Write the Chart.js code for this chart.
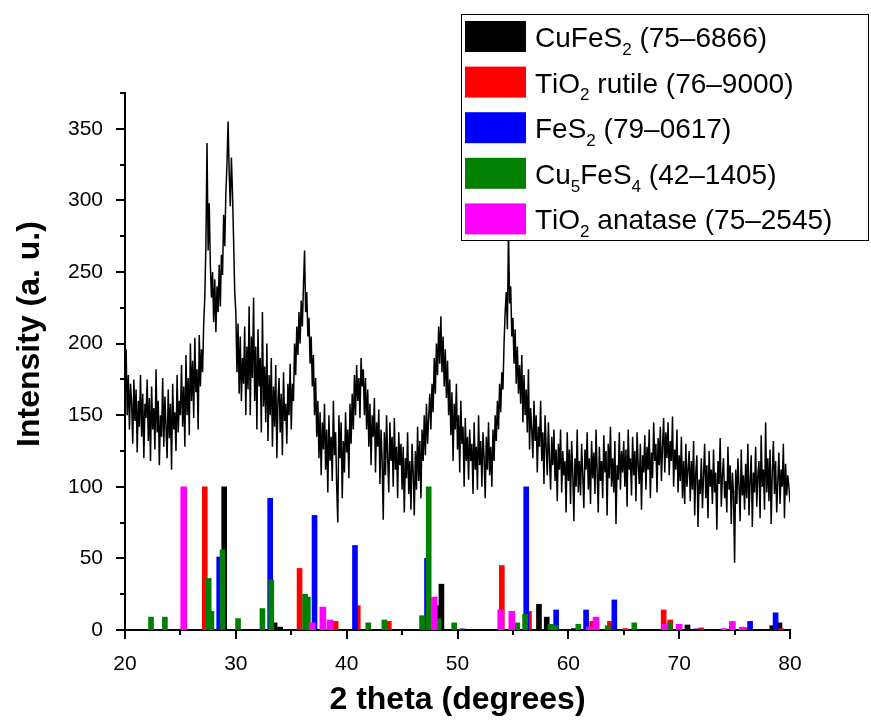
<!DOCTYPE html>
<html>
<head>
<meta charset="utf-8">
<script src="https://cdn.jsdelivr.net/npm/chart.js@4.4.1/dist/chart.umd.min.js"></script>
<style>
  html, body { margin: 0; padding: 0; background: #fff; }
  canvas { display: block; }
</style>
</head>
<body>
<canvas id="xrd" width="871" height="720"></canvas>
<script>
// measured pattern, one reading every 0.1 degree from 20 to 80
const scanStart = 20;
const scanStep = 0.1;
const intensity = [
  188, 196, 150, 178, 140, 172, 158, 130, 175, 146, // 20
  168, 124, 160, 142, 178, 135, 165, 120, 158, 148,
  175, 132, 162, 118, 170, 140, 155, 126, 182, 138,
  160, 115, 150, 135, 176, 128, 163, 142, 120, 168,
  134, 158, 112, 172, 140, 152, 125, 178, 138, 160,
  150, 185, 142, 170, 128, 192, 150, 176, 136, 200, // 25
  160, 188, 148, 204, 166, 182, 140, 206, 170, 196,
  180, 214, 232, 270, 340, 265, 298, 255, 232, 250,
  215, 245, 208, 240, 222, 255, 226, 262, 248, 290,
  268, 305, 325, 355, 320, 296, 330, 305, 272, 236,
  222, 180, 214, 165, 205, 160, 190, 172, 212, 150, // 30
  198, 168, 226, 150, 205, 176, 232, 160, 198, 140,
  210, 170, 190, 138, 222, 156, 184, 145, 200, 132,
  178, 150, 190, 128, 170, 142, 185, 120, 160, 176,
  138, 165, 122, 180, 146, 158, 130, 172, 150, 186,
  140, 172, 160, 200, 178, 212, 192, 222, 200, 230, // 35
  212, 240, 265, 222, 236, 205, 218, 186, 205, 170,
  192, 150, 176, 135, 160, 120, 152, 108, 145, 126,
  158, 112, 140, 96, 150, 118, 135, 104, 160, 122,
  138, 100, 75, 150, 120, 145, 92, 132, 110, 152,
  124, 140, 106, 158, 130, 165, 140, 178, 150, 185, // 40
  160, 176, 148, 190, 170, 182, 150, 176, 140, 168,
  128, 158, 115, 150, 135, 162, 110, 145, 128, 154,
  102, 140, 118, 77, 138, 108, 150, 120, 96, 145,
  118, 135, 100, 148, 112, 128, 92, 138, 115, 130,
  98, 128, 82, 120, 106, 138, 95, 118, 84, 130, // 45
  110, 80, 125, 98, 142, 104, 132, 92, 140, 118,
  150, 122, 158, 130, 148, 165, 140, 172, 152, 190,
  165, 200, 178, 212, 186, 219, 180, 205, 170, 196,
  162, 188, 150, 175, 136, 166, 118, 158, 140, 172,
  126, 150, 110, 160, 130, 142, 100, 148, 118, 135, // 50
  105, 140, 118, 130, 95, 145, 112, 128, 98, 150,
  115, 132, 100, 138, 120, 92, 135, 112, 145, 108,
  128, 100, 140, 118, 150, 132, 160, 140, 172, 152,
  180, 168, 200, 222, 236, 210, 280, 228, 240, 205,
  218, 186, 210, 172, 198, 165, 185, 158, 192, 145, // 55
  178, 150, 168, 138, 182, 126, 155, 140, 120, 160,
  132, 150, 110, 142, 128, 160, 118, 138, 102, 150,
  128, 108, 145, 120, 98, 135, 115, 140, 104, 126,
  90, 130, 112, 140, 96, 125, 108, 118, 82, 138,
  104, 126, 88, 132, 110, 76, 120, 100, 140, 96, // 60
  118, 94, 130, 108, 85, 126, 112, 138, 98, 120,
  88, 132, 106, 124, 95, 140, 110, 82, 128, 104,
  118, 92, 136, 110, 125, 80, 130, 106, 142, 100,
  120, 96, 132, 74, 115, 105, 138, 98, 125, 110,
  132, 100, 126, 86, 140, 112, 120, 94, 135, 108, // 65
  125, 90, 138, 115, 102, 130, 84, 122, 110, 136,
  98, 128, 112, 140, 92, 124, 106, 145, 118, 130,
  96, 134, 115, 142, 104, 128, 148, 110, 138, 120,
  145, 108, 132, 118, 149, 100, 126, 112, 140, 96,
  122, 104, 135, 92, 118, 88, 130, 100, 112, 125, // 70
  90, 118, 98, 132, 80, 110, 122, 72, 105, 95,
  120, 85, 108, 130, 92, 115, 78, 125, 100, 112,
  88, 126, 96, 110, 70, 118, 102, 134, 86, 108,
  120, 92, 104, 82, 128, 98, 115, 74, 110, 96,
  47, 112, 88, 120, 100, 76, 126, 94, 108, 84, // 75
  116, 92, 130, 80, 104, 122, 72, 110, 96, 128,
  86, 108, 118, 78, 136, 100, 112, 84, 145, 96,
  120, 90, 126, 74, 110, 132, 95, 118, 82, 104,
  124, 88, 112, 100, 130, 78, 116, 94, 108, 100,
  89 // 80
];

// reference cards: peak position (2 theta) and relative intensity
const cufes2Pos = [28.95, 33.5, 34.0, 48.25, 48.55, 57.35, 58.05, 60.5, 70.75, 78.4, 79.05];
const cufes2Int = [100, 5, 2, 17, 32, 18, 9, 1, 3.5, 3, 5];

const rutilePos = [27.2, 35.75, 39.0, 41.0, 43.8, 54.0, 56.45, 62.15, 63.75, 65.15, 68.6, 69.2, 72.0, 75.95, 79.2];
const rutileInt = [100, 43, 6, 17, 6, 45, 13, 6, 6, 1, 14, 7, 1.5, 1.5, 1];

const fes2Pos = [28.5, 33.1, 37.1, 40.75, 47.25, 50.45, 56.2, 58.9, 61.6, 64.15, 71.55, 76.4, 78.7];
const fes2Int = [51, 92, 80, 59, 50, 0.8, 100, 14, 14, 21, 0.8, 6, 12];

const bornitePos = [22.35, 23.6, 27.55, 27.8, 28.8, 30.2, 32.4, 33.2, 36.25, 36.5, 41.95, 43.4, 46.8, 47.4,
  48.3, 49.7, 55.4, 56.1, 58.4, 58.85, 60.9, 63.55, 65.95, 69.15];
const borniteInt = [9, 9, 36, 13, 56, 8, 15, 35, 25, 23, 5, 7, 10, 100, 8, 5, 5, 11, 4, 3, 4, 3, 5, 5];

const anatasePos = [25.3, 36.9, 37.85, 38.5, 47.9, 53.9, 54.9, 61.9, 62.5, 68.7, 70.0, 74.05, 74.8, 75.7];
const anataseInt = [100, 5, 16, 7, 23, 14, 13, 2, 9, 4, 4, 1, 6, 2];

const phaseLabels = [
  "CuFeS₂ (75–6866)",
  "TiO₂ rutile (76–9000)",
  "FeS₂ (79–0617)",
  "Cu₅FeS₄ (42–1405)",
  "TiO₂ anatase (75–2545)"
];
const phaseColors = ["#000000", "#ff0000", "#0000ff", "#008000", "#ff00ff"];

const xTicks = [20, 30, 40, 50, 60, 70, 80];
const yTicks = [0, 50, 100, 150, 200, 250, 300, 350];

const FONT = "'Liberation Sans', Arial, sans-serif";

function sticks(pos, val) {
  return pos.map((p, i) => ({ x: p, y: val[i] }));
}

// draw a label, turning unicode subscript digits into real lowered digits
function drawRich(ctx, text, x, y, size) {
  let cx = x;
  for (const ch of text) {
    const code = ch.charCodeAt(0);
    if (code >= 0x2080 && code <= 0x2089) {
      const d = String(code - 0x2080);
      ctx.font = Math.round(size * 0.62) + "px " + FONT;
      ctx.fillText(d, cx, y + size * 0.28);
      cx += ctx.measureText(d).width;
    } else {
      ctx.font = size + "px " + FONT;
      ctx.fillText(ch, cx, y);
      cx += ctx.measureText(ch).width;
    }
  }
}

const tickMarks = {
  id: "tickMarks",
  afterDraw(chart) {
    const { ctx, chartArea: a } = chart;
    const x = chart.scales.x, y = chart.scales.y;
    ctx.save();
    ctx.strokeStyle = "#000";
    ctx.lineWidth = 2;
    ctx.beginPath();
    for (let v = 0; v <= 375; v += 25) {
      const py = Math.round(y.getPixelForValue(v));
      ctx.moveTo(a.left, py);
      ctx.lineTo(a.left - (v % 50 === 0 ? 9 : 5), py);
    }
    for (let v = 20; v <= 80; v += 5) {
      const px = Math.round(x.getPixelForValue(v));
      ctx.moveTo(px, a.bottom);
      ctx.lineTo(px, a.bottom + (v % 10 === 0 ? 9 : 5));
    }
    ctx.stroke();

    // axis titles
    ctx.fillStyle = "#000";
    ctx.font = "bold 32px " + FONT;
    ctx.textAlign = "center";
    ctx.textBaseline = "middle";
    ctx.fillText("2 theta (degrees)", (a.left + a.right) / 2, 700);
    ctx.translate(30, 334);
    ctx.rotate(-Math.PI / 2);
    ctx.fillText("Intensity (a. u.)", 0, 0);
    ctx.restore();
  }
};

const legendBox = {
  id: "legendBox",
  afterDraw(chart) {
    const ctx = chart.ctx;
    ctx.save();
    ctx.fillStyle = "#fff";
    ctx.fillRect(461, 14, 408, 227);
    ctx.strokeStyle = "#000";
    ctx.lineWidth = 1;
    ctx.strokeRect(461.5, 14.5, 407, 226);
    ctx.textBaseline = "alphabetic";
    ctx.textAlign = "left";
    phaseLabels.forEach((label, i) => {
      const top = 21 + i * 45.6;
      ctx.fillStyle = phaseColors[i];
      ctx.fillRect(465, top, 61, 31);
      ctx.fillStyle = "#000";
      drawRich(ctx, label, 535, top + 26, 28);
    });
    ctx.restore();
  }
};

const barDefaults = { type: "bar", grouped: false, borderWidth: 0, barThickness: 5 };

new Chart(document.getElementById("xrd"), {
  type: "bar",
  data: {
    datasets: [
      {
        type: "line",
        data: intensity.map((v, i) => ({ x: +(scanStart + i * scanStep).toFixed(2), y: v })),
        borderColor: "#000",
        borderWidth: 1.5,
        pointRadius: 0,
        tension: 0,
        fill: false,
        order: 0
      },
      { ...barDefaults, data: sticks(anatasePos, anataseInt), backgroundColor: phaseColors[4], barThickness: 6, order: 1 },
      { ...barDefaults, data: sticks(bornitePos, borniteInt), backgroundColor: phaseColors[3], order: 2 },
      { ...barDefaults, data: sticks(fes2Pos, fes2Int), backgroundColor: phaseColors[2], order: 3 },
      { ...barDefaults, data: sticks(rutilePos, rutileInt), backgroundColor: phaseColors[1], order: 4 },
      { ...barDefaults, data: sticks(cufes2Pos, cufes2Int), backgroundColor: phaseColors[0], order: 5 }
    ]
  },
  options: {
    responsive: false,
    animation: false,
    layout: { padding: { left: 0, right: 81, top: 93, bottom: 0 } },
    scales: {
      x: {
        type: "linear",
        min: 20,
        max: 80,
        offset: false,
        afterBuildTicks: (s) => { s.ticks = xTicks.map((v) => ({ value: v })); },
        afterFit: (s) => { s.height = 90; },
        grid: { display: false },
        border: { display: true, color: "#000", width: 2 },
        ticks: { color: "#000", padding: 14, maxRotation: 0, font: { family: FONT, size: 21 } }
      },
      y: {
        min: 0,
        max: 375,
        afterBuildTicks: (s) => { s.ticks = yTicks.map((v) => ({ value: v })); },
        afterFit: (s) => { s.width = 125; },
        grid: { display: false },
        border: { display: true, color: "#000", width: 2 },
        ticks: { color: "#000", padding: 14, font: { family: FONT, size: 21 } }
      }
    },
    plugins: {
      legend: { display: false },
      tooltip: { enabled: false }
    }
  },
  plugins: [tickMarks, legendBox]
});
</script>
</body>
</html>
